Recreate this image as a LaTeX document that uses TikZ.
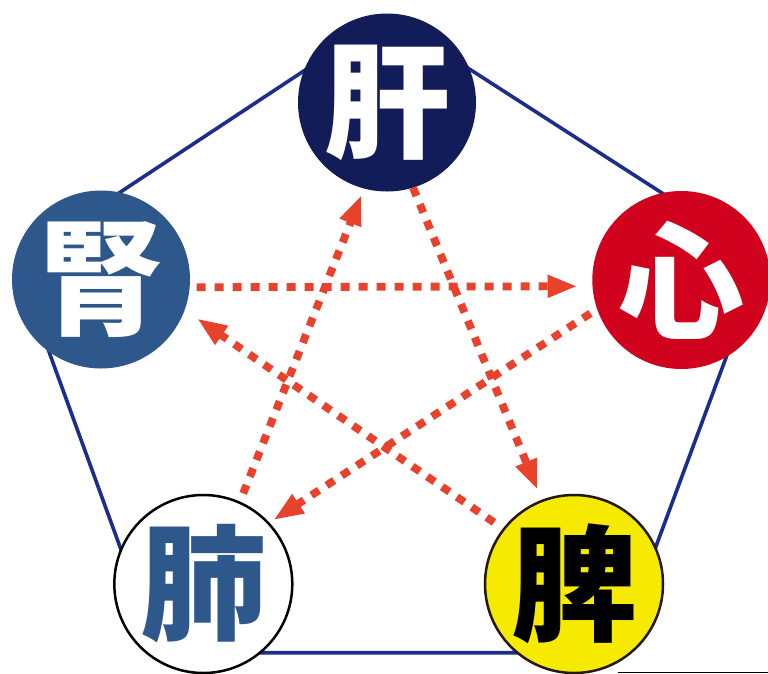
\documentclass[tikz,border=0pt]{standalone}
\usepackage{fontspec}
\newfontfamily\cjk{Noto Sans CJK JP}
\usetikzlibrary{arrows.meta}
\definecolor{ganC}{HTML}{121C58}
\definecolor{shenC}{HTML}{2E578C}
\definecolor{xinC}{HTML}{D0021E}
\definecolor{piC}{HTML}{F5EA00}
\definecolor{edgeC}{HTML}{1C2D8C}
\definecolor{arrC}{HTML}{E8412C}
\definecolor{rimC}{HTML}{231815}
\tikzset{
  organ/.style={circle, minimum size=178pt, inner sep=0pt, outer sep=0pt,
    font=\cjk\bfseries\fontsize{126}{126}\selectfont},
  penta/.style={draw=edgeC, line width=3.6pt, line join=round},
  flow/.style={draw=arrC, line width=7.8pt, dash pattern=on 9pt off 9pt,
    -{Triangle[length=30pt,width=21pt]}}
}
\begin{document}
\begin{tikzpicture}[x=1pt,y=-1pt]
\useasboundingbox (0,0) rectangle (768,673);
% pentagon outline
\coordinate (p1) at (387,16);
\coordinate (p2) at (763,258);
\coordinate (p3) at (616.5,652.7);
\coordinate (p4) at (158.5,652.7);
\coordinate (p5) at (16,261);
\draw[penta] (p1) -- (p2) -- (p3) -- (p4) -- (p5) -- cycle;
% thin line bottom right
\coordinate (b1) at (618,672.3);
\coordinate (b2) at (768,672.3);
\draw[black, line width=1.2pt] (b1) -- (b2);
% organs
\node[organ, fill=ganC, text=white] (gan) at (387,102.5) {肝};
\node[organ, fill=shenC, text=white] (shen) at (101,279.5) {腎};
\node[organ, fill=xinC, text=white] (xin) at (681.3,280) {心};
\node[organ, fill=white, draw=black, line width=2.5pt, text=shenC] (fei) at (203.3,584) {肺};
\node[organ, fill=piC, draw=rimC, line width=2.5pt, text=black] (pi) at (574,584) {脾};
% arrows
\draw[flow, shorten <=7pt, shorten >=15pt] (shen.-5.1) -- (xin.184.5);
\draw[flow, shorten <=10pt, shorten >=7pt] (fei.66.2) -- (gan.-105.1);
\draw[flow, shorten <=0pt, shorten >=12pt] (gan.-73.1) -- (pi.111.5);
\draw[flow, shorten <=8pt, shorten >=6pt] (xin.199.1) -- (fei.43.2);
\draw[flow, shorten <=12pt, shorten >=15pt] (pi.142.1) -- (shen.-20.9);
\end{tikzpicture}
\end{document}
